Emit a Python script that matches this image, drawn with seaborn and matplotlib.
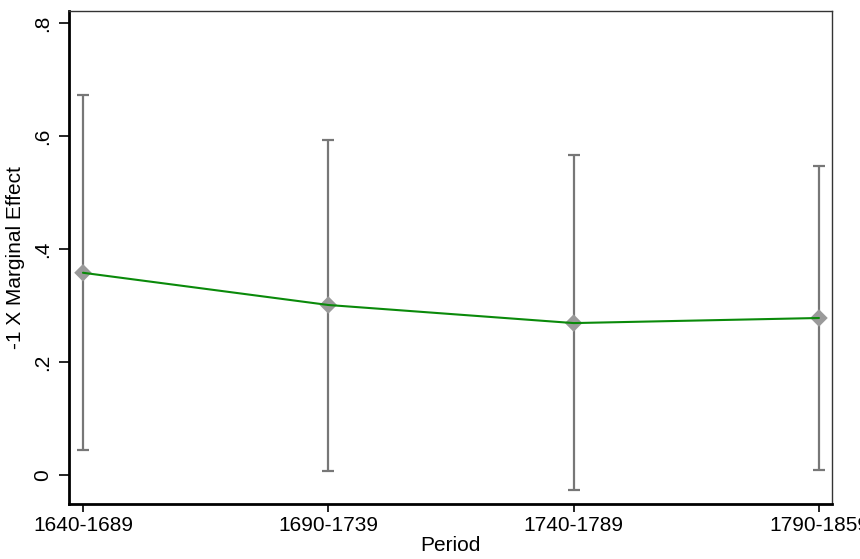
import numpy as np
import pandas as pd
from matplotlib import pyplot as plt
import seaborn as sns

periods = ['1640-1689', '1690-1739', '1740-1789', '1790-1859']
effect = [0.358, 0.301, 0.269, 0.278]
ci_low = [0.045, 0.008, -0.027, 0.010]
ci_high = [0.672, 0.593, 0.566, 0.546]

df = pd.DataFrame({'pos': np.arange(len(periods)), 'period': periods,
                   'effect': effect, 'lo': ci_low, 'hi': ci_high})

sns.set_style('ticks')
plt.rcParams['font.family'] = ['Liberation Sans', 'DejaVu Sans']
plt.rcParams['text.color'] = 'black'
plt.rcParams['axes.labelcolor'] = 'black'
plt.rcParams['xtick.color'] = 'black'
plt.rcParams['ytick.color'] = 'black'

fig = plt.figure(figsize=(8.6, 5.59), dpi=100)
ax = fig.add_axes([0.0802, 0.0984, 0.8872, 0.8819])

# confidence interval caps
ax.errorbar(df['pos'], df['effect'],
            yerr=[df['effect'] - df['lo'], df['hi'] - df['effect']],
            fmt='none', ecolor='#777777', elinewidth=1.6, capsize=4, capthick=1.6, zorder=2)
sns.scatterplot(data=df, x='pos', y='effect', marker='D', s=80, color='#9a9a9a',
                edgecolor='none', ax=ax, zorder=3)
sns.lineplot(data=df, x='pos', y='effect', color='#0a8a0a', linewidth=1.5, ax=ax, zorder=4)

ax.set_xlim(-0.057, 3.053)
ax.set_ylim(-0.051, 0.821)
ax.set_xticks(df['pos'])
ax.set_xticklabels(periods)
ax.set_yticks([0, 0.2, 0.4, 0.6, 0.8])
ax.set_yticklabels(['0', '.2', '.4', '.6', '.8'], rotation=90, va='center')
ax.tick_params(axis='both', labelsize=15, width=1.2, direction='out')
ax.tick_params(axis='y', length=7, pad=5)
ax.tick_params(axis='x', length=5.5, pad=3)
ax.set_xlabel('Period', fontsize=15, labelpad=1)
ax.set_ylabel('-1 X Marginal Effect', fontsize=15, labelpad=6)

for side in ['left', 'bottom']:
    ax.spines[side].set_linewidth(2)
    ax.spines[side].set_color('black')
for side in ['top', 'right']:
    ax.spines[side].set_visible(True)
    ax.spines[side].set_linewidth(1)
    ax.spines[side].set_color('#333333')

fig.savefig('out.png', dpi=100)
